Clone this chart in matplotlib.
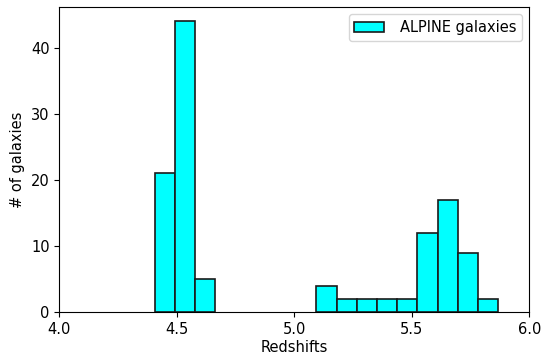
import numpy as np
import matplotlib
matplotlib.use('Agg')
import matplotlib.pyplot as plt

# histogram bins (left edges) and counts
bin_start = 4.406
bin_width = 0.086
counts = [21, 44, 5, 0, 0, 0, 0, 0, 4, 2, 2, 2, 2, 12, 17, 9, 2]

edges = bin_start + bin_width * np.arange(len(counts) + 1)
centers = 0.5 * (edges[:-1] + edges[1:])

fig, ax = plt.subplots(figsize=(5.44, 3.55), dpi=100)
_, _, patches = ax.hist(centers, bins=edges, weights=counts, color='cyan',
                        edgecolor='#1a1a1a', linewidth=1.2, label='ALPINE galaxies')
# empty bins should not thicken the baseline
for p, c in zip(patches, counts):
    if c == 0:
        p.set_visible(False)

ax.set_xlim(4.0, 6.0)
ax.set_xticks([4.0, 4.5, 5.0, 5.5, 6.0])
ax.tick_params(labelsize=10.5)
ax.set_xlabel('Redshifts', fontsize=10.5, labelpad=2)
ax.set_ylabel('# of galaxies', fontsize=10.5)
ax.legend(loc='upper right', fontsize=10.5, handletextpad=1.1)

fig.subplots_adjust(left=0.109, right=0.973, top=0.981, bottom=0.120)
plt.savefig('out.png', dpi=100)
